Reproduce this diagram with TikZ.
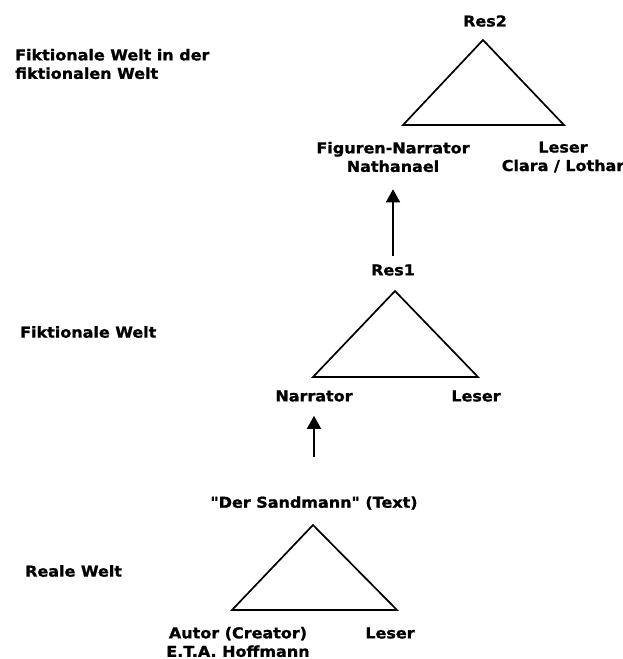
\documentclass[tikz,border=0pt]{standalone}
\usepackage{fontspec}
\setmainfont{DejaVu Sans}
\newfontfamily\lblfont{DejaVu Sans}[FakeStretch=1.065, FakeBold=1.2]
\usetikzlibrary{arrows.meta}

\tikzset{
    lbl/.style={font=\lblfont\fontsize{15}{18.5}\selectfont\bfseries, align=center, inner sep=1pt},
    welt/.style={lbl, anchor=west, align=left},
    dreieck/.style={line width=1.7pt, line join=miter},
    pfeil/.style={line width=1.5pt, -{Triangle[length=13pt,width=14pt]}}
}

\begin{document}
\begin{tikzpicture}[x=1pt, y=-1pt]
    \useasboundingbox (0,0) rectangle (623,659);
    % Ebenen
    \node[welt] (welt2) at (14,64) {Fiktionale Welt in der\\fiktionalen Welt};
    \node[welt] (welt1) at (19,332) {Fiktionale Welt};
    \node[welt] (welt0) at (24,571) {Reale Welt};
    % oberes Dreieck
    \draw[dreieck] (483,40) -- (403,125) -- (564,125) -- cycle;
    \node[lbl] (res2) at (485,21) {Res2};
    \node[lbl] (figur) at (393,157) {Figuren-Narrator\\Nathanael};
    \node[lbl] (leser2) at (563,157) {Leser\\Clara / Lothar};
    % mittleres Dreieck
    \draw[dreieck] (395,291) -- (313,377) -- (478,377) -- cycle;
    \node[lbl] (res1) at (393,270) {Res1};
    \node[lbl] (narr) at (314,396) {Narrator};
    \node[lbl] (leser1) at (476,396) {Leser};
    % unteres Dreieck
    \draw[dreieck] (313,525) -- (232,610) -- (397,610) -- cycle;
    \node[lbl] (text) at (314,503) {\symbol{34}Der Sandmann\symbol{34} (Text)};
    \node[lbl] (autor) at (238,642) {Autor (Creator)\\E.T.A. Hoffmann};
    \node[lbl] (leser0) at (390,633) {Leser};
    % Pfeile
    \draw[pfeil] ([yshift=7pt]res1.north) -- ([yshift=-16pt]figur.south);
    \draw[pfeil] ([yshift=38pt]text.north) -- ([yshift=-13pt]narr.south);
\end{tikzpicture}
\end{document}
